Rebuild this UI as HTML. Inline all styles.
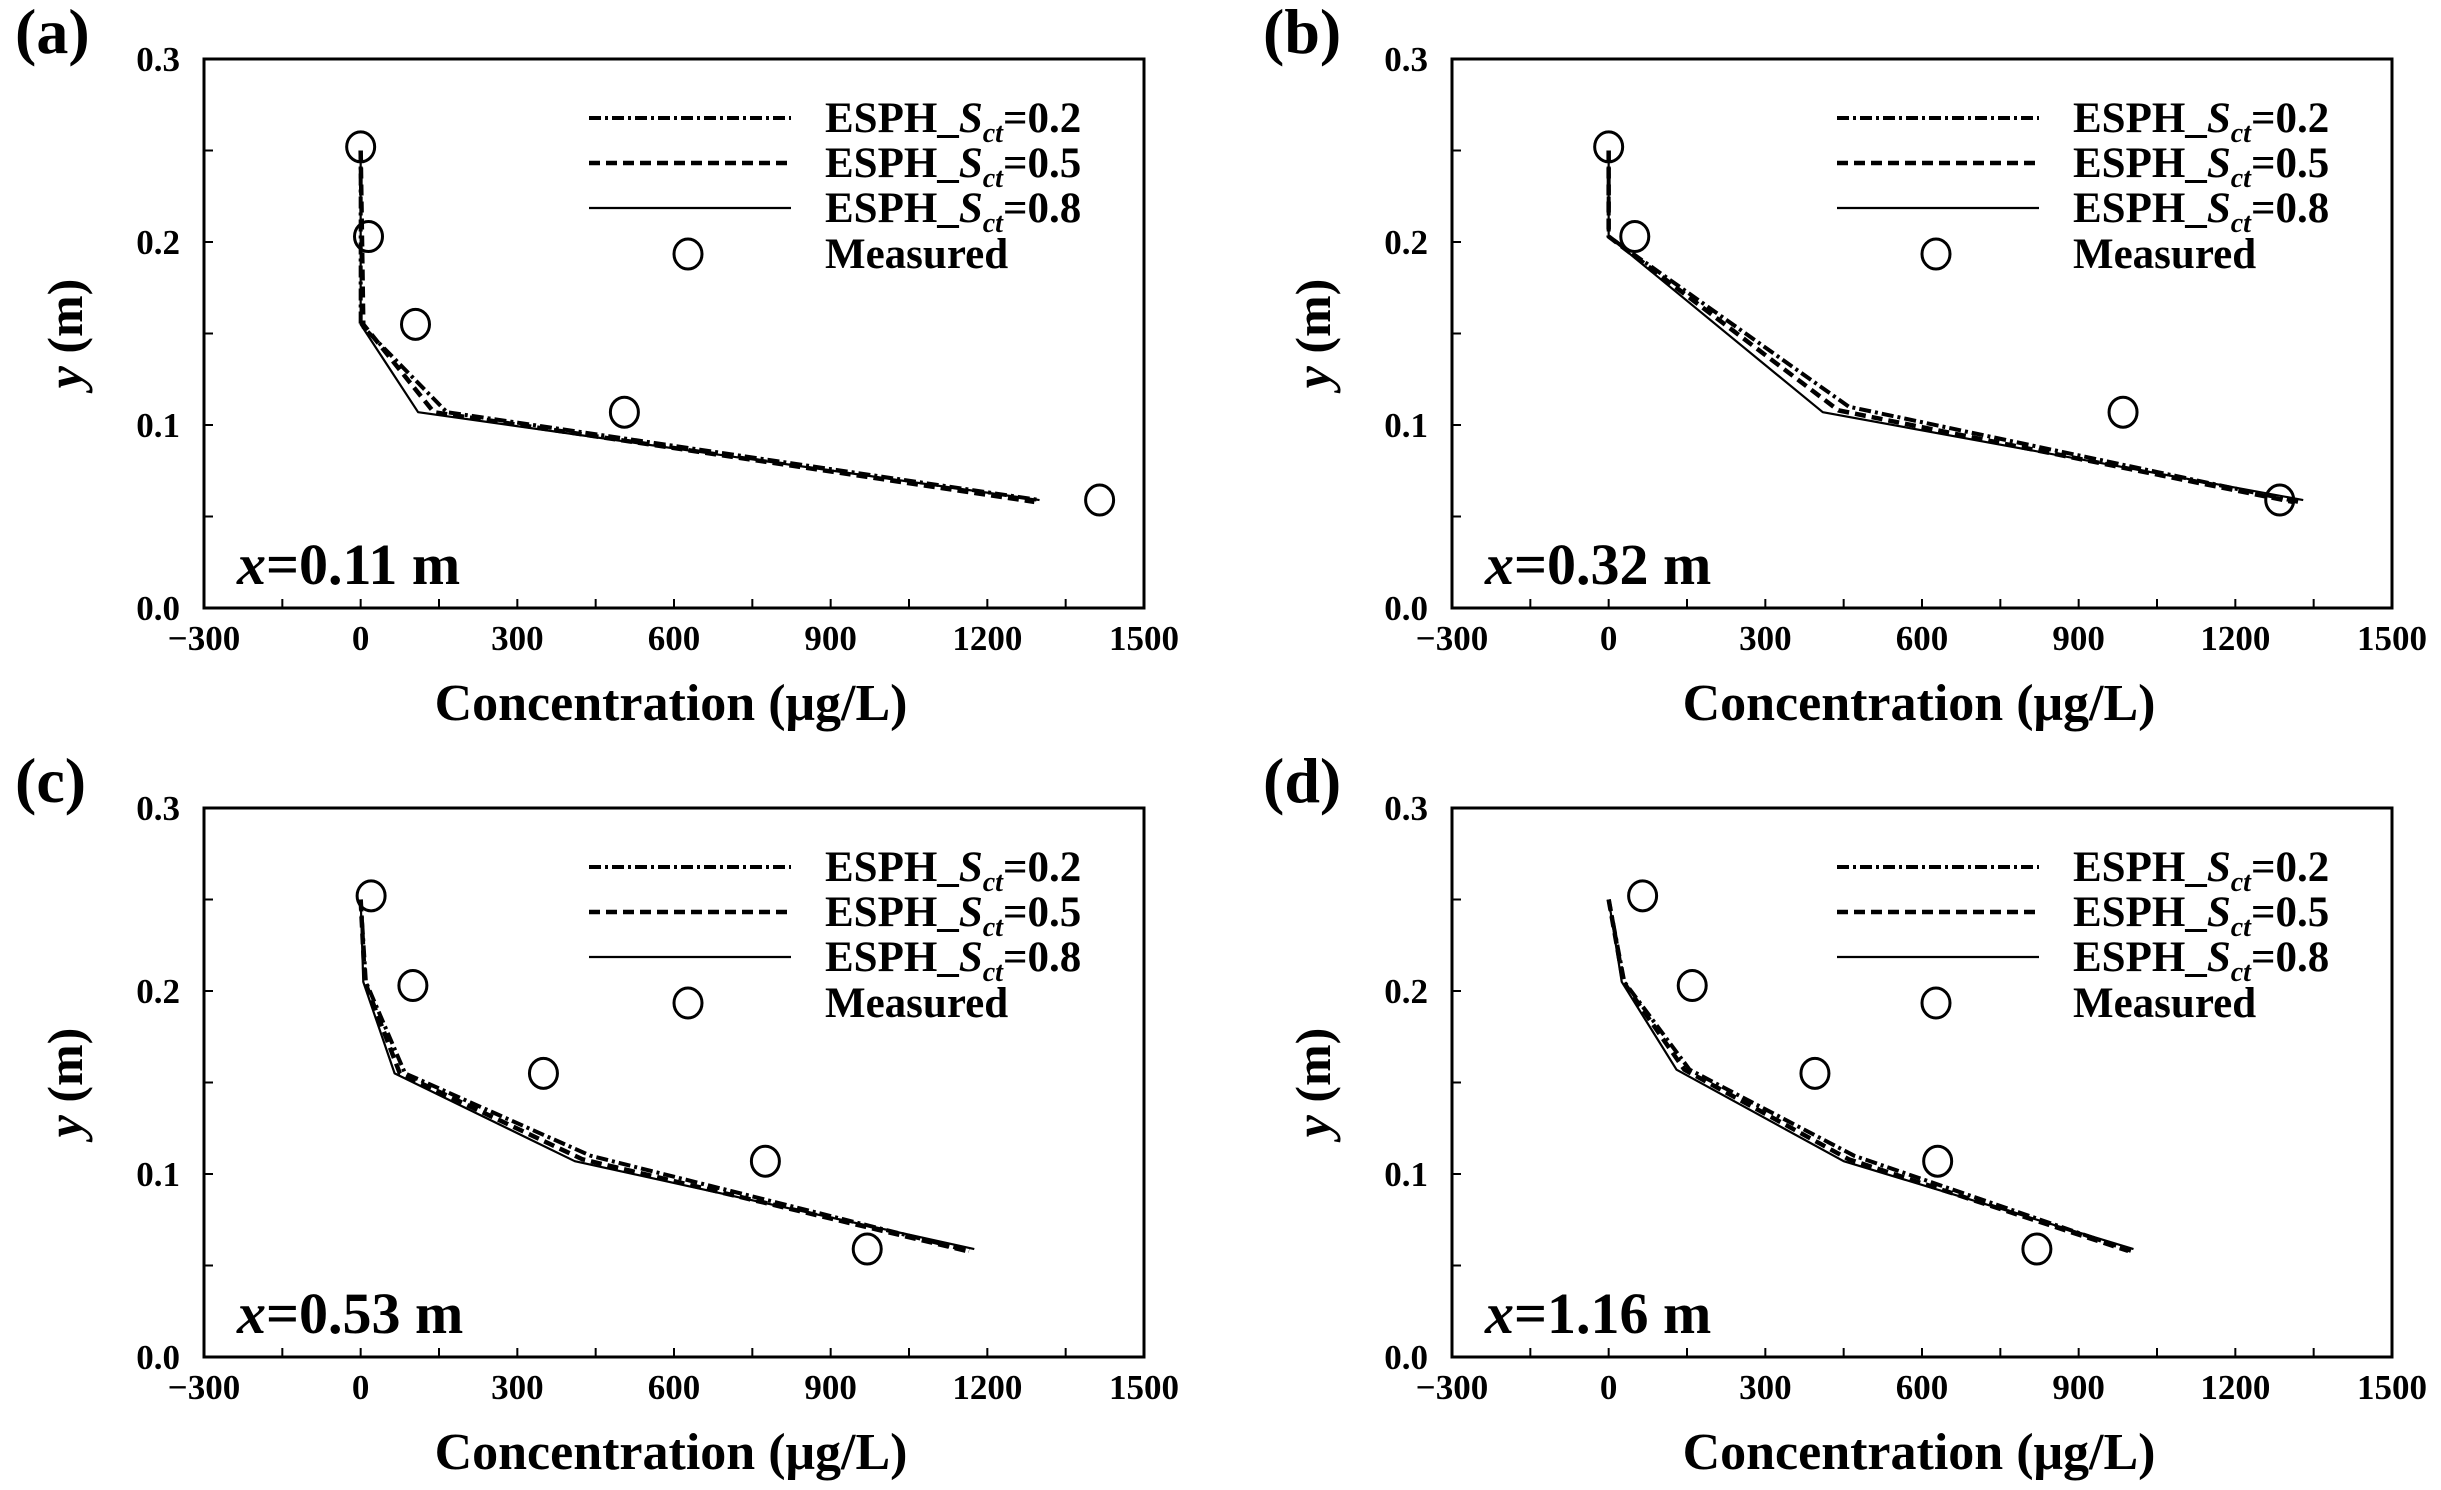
<!DOCTYPE html>
<html><head><meta charset="utf-8"><style>
html,body{margin:0;padding:0;background:#fff;}
svg{display:block;font-family:"Liberation Serif",serif;font-weight:bold;}
</style></head><body>
<svg id="fig" width="2441" height="1490" viewBox="0 0 2441 1490" xmlns="http://www.w3.org/2000/svg"></svg>
<script>
// ---- data ----
const panelLabels = ["(a)","(b)","(c)","(d)"];
const positionLabels = ["0.11","0.32","0.53","1.16"];
const xTicks = [-300,0,300,600,900,1200,1500];
const yTicks = [0.0,0.1,0.2,0.3];
const yTickLabels = ["0.0","0.1","0.2","0.3"];
// panel a
const aMeasX = [0,15,105,505,1415];
const aMeasY = [0.252,0.203,0.155,0.107,0.059];
const aS08X = [0,0,110,1300];      const aS08Y = [0.25,0.155,0.107,0.059];
const aS05X = [0,5,140,1290];      const aS05Y = [0.25,0.155,0.107,0.058];
const aS02X = [0,0,165,1300];      const aS02Y = [0.25,0.155,0.107,0.059];
// panel b
const bMeasX = [0,50,985,1285];
const bMeasY = [0.252,0.203,0.107,0.059];
const bS08X = [0,0,410,1330];      const bS08Y = [0.25,0.203,0.107,0.059];
const bS05X = [0,0,440,1310];      const bS05Y = [0.25,0.203,0.108,0.058];
const bS02X = [0,0,460,1320];      const bS02Y = [0.25,0.203,0.11,0.058];
// panel c
const cMeasX = [20,100,350,775,970];
const cMeasY = [0.252,0.203,0.155,0.107,0.059];
const cS08X = [0,5,65,410,1175];   const cS08Y = [0.25,0.205,0.155,0.107,0.059];
const cS05X = [0,8,75,425,1160];   const cS05Y = [0.25,0.205,0.155,0.108,0.058];
const cS02X = [0,10,85,440,1165];  const cS02Y = [0.25,0.205,0.155,0.11,0.058];
// panel d
const dMeasX = [65,160,395,630,820];
const dMeasY = [0.252,0.203,0.155,0.107,0.059];
const dS08X = [0,25,130,450,1005]; const dS08Y = [0.25,0.205,0.157,0.107,0.059];
const dS05X = [0,28,145,460,995];  const dS05Y = [0.25,0.205,0.157,0.108,0.058];
const dS02X = [0,30,155,470,1000]; const dS02Y = [0.25,0.205,0.157,0.11,0.058];

const panels = [
 {meas:[aMeasX,aMeasY], s08:[aS08X,aS08Y], s05:[aS05X,aS05Y], s02:[aS02X,aS02Y]},
 {meas:[bMeasX,bMeasY], s08:[bS08X,bS08Y], s05:[bS05X,bS05Y], s02:[bS02X,bS02Y]},
 {meas:[cMeasX,cMeasY], s08:[cS08X,cS08Y], s05:[cS05X,cS05Y], s02:[cS02X,cS02Y]},
 {meas:[dMeasX,dMeasY], s08:[dS08X,dS08Y], s05:[dS05X,dS05Y], s02:[dS02X,dS02Y]}
];
const boxes = [[204,59],[1452,59],[204,808],[1452,808]];
const PW = 940, PH = 549;
const NS = "http://www.w3.org/2000/svg";
const svg = document.getElementById("fig");
function mk(tag, attrs, parent){const e=document.createElementNS(NS,tag);for(const k in attrs)e.setAttribute(k,attrs[k]);(parent||svg).appendChild(e);return e;}

panels.forEach((p,i)=>{
  const [L,T] = boxes[i];
  const sx = v => L + (v - (-300)) / 1800 * PW;
  const sy = v => T + PH - v / 0.3 * PH;
  const g = mk("g",{});
  
  
  const lbl = mk("text",{x:L-189,y:T-6,"font-size":64},g); lbl.textContent = panelLabels[i];
  
  
  const fr = mk("rect",{x:L,y:T,width:PW,height:PH,fill:"none",stroke:"#000","stroke-width":3},g);
  
  
  for(let v=-300; v<=1500; v+=150){
    const x = sx(v);
    mk("line",{x1:x,y1:T+PH,x2:x,y2:T+PH-9,stroke:"#000","stroke-width":2},g);
  }
  xTicks.forEach(v=>{
    const t = mk("text",{x:sx(v),y:T+PH+42,"font-size":35,"text-anchor":"middle"},g);
    t.textContent = v<0 ? "\u2212"+Math.abs(v) : String(v);
    
    
  });
  for(let k=0;k<=6;k++){
    const y = sy(k*0.05);
    mk("line",{x1:L,y1:y,x2:L+9,y2:y,stroke:"#000","stroke-width":2},g);
  }
  yTicks.forEach((v,j)=>{
    const t = mk("text",{x:L-24,y:sy(v)+12,"font-size":35,"text-anchor":"end"},g);
    t.textContent = yTickLabels[j];
    
    
  });
  const xt = mk("text",{x:L+PW/2-3,y:T+PH+112,"font-size":52,"text-anchor":"middle"},g);
  xt.textContent = "Concentration (\u03bcg/L)";
  
  
  const yt = mk("text",{x:0,y:0,"font-size":50,"text-anchor":"middle",transform:`translate(${L-122},${T+PH/2}) rotate(-90)`},g);
  yt.innerHTML = '<tspan font-style="italic">y</tspan> (m)';
  
  
  const pos = mk("text",{x:L+33,y:T+PH-24,"font-size":58},g);
  pos.innerHTML = '<tspan font-style="italic">x</tspan>=' + positionLabels[i] + ' m';
  
  
  const styles = {
    s02:{w:4,dash:"12,4,3,4"},
    s05:{w:4.5,dash:"11,6"},
    s08:{w:2.2,dash:""}
  };
  ["s02","s05","s08"].forEach(key=>{
    const [xs,ys] = p[key];
    const pts = xs.map((x,k)=>sx(x)+","+sy(ys[k])).join(" ");
    const pl = mk("polyline",{points:pts,fill:"none",stroke:"#000","stroke-width":styles[key].w,"stroke-dasharray":styles[key].dash,"stroke-linejoin":"round"},g);
    
    
  });
  const [mx,my] = p.meas;
  mx.forEach((x,k)=>{
    const c = mk("ellipse",{cx:sx(x),cy:sy(my[k]),rx:14,ry:15,fill:"none",stroke:"#000","stroke-width":3},g);
    
    
  });
  const leg = mk("g",{},g);
  
  
  const names = ["0.2","0.5","0.8"];
  ["s02","s05","s08"].forEach((key,k)=>{
    const y = T+59+k*45;
    const ll = mk("line",{x1:L+385,y1:y,x2:L+587,y2:y,stroke:"#000","stroke-width":styles[key].w,"stroke-dasharray":styles[key].dash},leg);
    
    
    const t = mk("text",{x:L+621,y:y+14,"font-size":43},leg);
    t.innerHTML = 'ESPH_<tspan font-style="italic">S</tspan><tspan font-style="italic" font-size="28" dy="10">ct</tspan><tspan dy="-10">=' + names[k] + '</tspan>';
    
    
  });
  const lc = mk("ellipse",{cx:L+484,cy:T+195,rx:14,ry:15,fill:"none",stroke:"#000","stroke-width":3},leg);
  
  
  const lt = mk("text",{x:L+621,y:T+209,"font-size":43},leg);
  lt.textContent = "Measured";
  
  
});
</script>
</body></html>
